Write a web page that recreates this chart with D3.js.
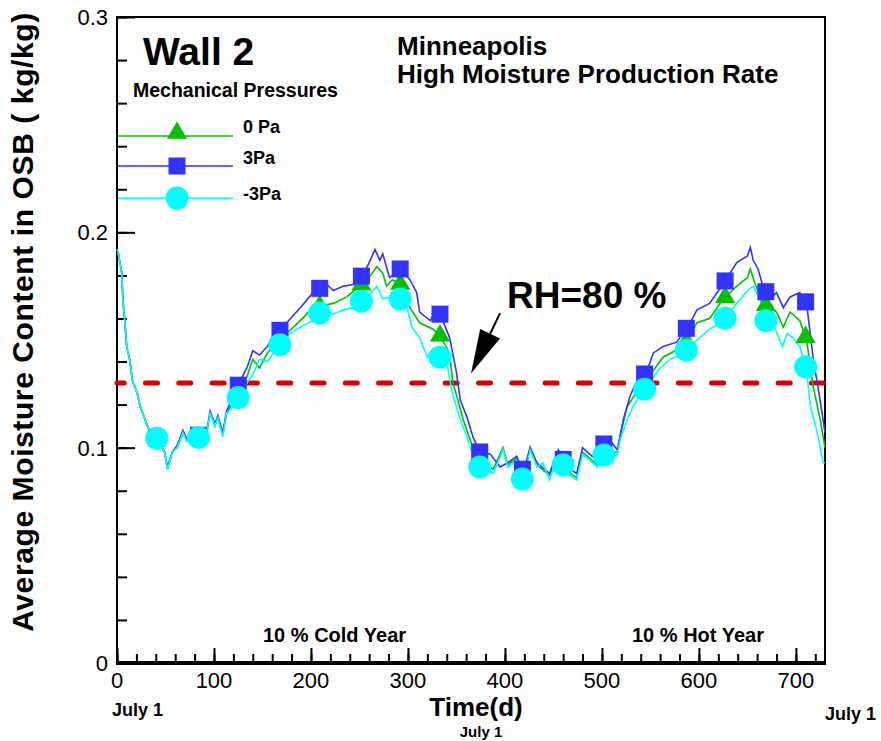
<!DOCTYPE html>
<html>
<head>
<meta charset="utf-8">
<script src="https://cdn.jsdelivr.net/npm/d3@7"></script>
<style>
  body { margin: 0; background: #fff; }
  text { font-family: "Liberation Sans", Arial, sans-serif; }
</style>
</head>
<body>
<div id="container"></div>
<script>
/* DATA */
// day, moisture content (kg/kg)
const seriesMinus3 = [
  [0,.192],[1,.191],[5,.181],[6,.169],[8,.159],[10,.147],[13,.141],[16,.131],[21,.125],[24,.119],
  [29,.113],[34,.107],[42,.104],[49,.098],[52,.090],[57,.098],[62,.100],[68,.107],[72,.103],[78,.107],
  [86,.104],[93,.108],[96,.116],[101,.110],[104,.114],[109,.105],[113,.116],[120,.119],[127,.125],[134,.130],
  [140,.134],[147,.141],[155,.140],[165,.146],[175,.152],[189,.156],[202,.159],[212,.164],[223,.162],[233,.164],
  [243,.165],[258,.170],[268,.175],[274,.169],[281,.170],[292,.169],[299,.165],[304,.156],[312,.151],[320,.142],
  [326,.146],[333,.142],[341,.137],[346,.125],[354,.113],[361,.105],[367,.096],[374,.091],[388,.088],[398,.099],
  [403,.091],[412,.094],[419,.084],[426,.099],[433,.091],[439,.093],[446,.085],[455,.097],[464,.088],[474,.085],
  [480,.097],[488,.094],[495,.091],[501,.097],[508,.094],[516,.097],[519,.104],[526,.113],[532,.119],[539,.124],
  [550,.131],[560,.137],[570,.141],[584,.144],[598,.150],[611,.155],[625,.159],[639,.167],[650,.173],[656,.175],
  [663,.169],[668,.160],[673,.155],[678,.156],[686,.147],[691,.153],[697,.151],[704,.147],[711,.136],[715,.119],
  [722,.107],[728,.093],[730,.093]
]
const series3 = [
  [0,.192],[1,.191],[5,.181],[6,.169],[8,.159],[10,.147],[13,.141],[16,.131],[21,.125],[24,.119],
  [29,.113],[34,.107],[42,.104],[49,.098],[52,.091],[57,.098],[62,.101],[68,.108],[72,.104],[78,.108],
  [86,.105],[93,.109],[96,.117],[101,.111],[104,.115],[109,.107],[113,.117],[120,.124],[127,.131],[134,.137],
  [140,.145],[147,.143],[155,.147],[161,.151],[171,.156],[189,.165],[202,.172],[216,.176],[223,.173],[233,.175],
  [247,.176],[258,.184],[266,.192],[271,.187],[274,.190],[281,.179],[292,.183],[302,.178],[309,.172],[312,.163],
  [323,.159],[330,.165],[336,.159],[343,.151],[350,.135],[354,.122],[361,.114],[367,.105],[374,.098],[385,.097],
  [395,.091],[403,.093],[412,.096],[419,.089],[426,.100],[433,.093],[446,.088],[455,.099],[464,.091],[474,.088],
  [480,.100],[495,.094],[505,.105],[516,.099],[522,.113],[529,.124],[536,.131],[546,.135],[553,.144],[563,.147],
  [577,.149],[591,.158],[598,.164],[611,.167],[625,.176],[639,.186],[650,.189],[653,.193],[656,.187],[661,.183],
  [666,.175],[673,.169],[680,.172],[687,.165],[694,.170],[704,.172],[711,.167],[718,.141],[725,.122],[730,.107]
]
const series0 = [
  [0,.192],[1,.191],[5,.181],[6,.169],[8,.159],[10,.147],[13,.141],[16,.131],[21,.125],[24,.119],
  [29,.113],[34,.107],[42,.104],[49,.098],[52,.090],[57,.098],[62,.100],[68,.107],[72,.103],[78,.107],
  [86,.104],[93,.108],[96,.116],[101,.110],[104,.114],[109,.106],[113,.116],[120,.121],[127,.128],[134,.133],
  [140,.141],[147,.137],[155,.144],[161,.147],[175,.153],[189,.159],[202,.165],[223,.167],[237,.170],[258,.178],
  [268,.184],[274,.181],[278,.175],[284,.178],[292,.176],[302,.165],[312,.158],[326,.155],[333,.152],[343,.144],
  [346,.131],[357,.113],[367,.100],[374,.094],[388,.090],[398,.100],[403,.092],[412,.095],[419,.086],[426,.100],
  [433,.092],[446,.087],[455,.098],[464,.089],[474,.086],[480,.098],[495,.092],[501,.098],[516,.098],[519,.106],
  [526,.119],[536,.126],[550,.134],[563,.142],[584,.147],[598,.158],[611,.160],[625,.169],[639,.175],[650,.179],
  [653,.183],[658,.176],[666,.167],[680,.163],[687,.156],[694,.163],[704,.159],[711,.150],[718,.128],[725,.113],
  [730,.100]
]
const markerDays = [41, 84, 125, 168, 209, 252, 292, 333, 374, 418, 460, 502, 544, 587, 627, 669, 710]
const xTicks = [0, 100, 200, 300, 400, 500, 600, 700]
const yTicks = [0, 0.1, 0.2, 0.3]
const legendLabels = ["0 Pa", "3Pa", "-3Pa"]
const rhLimit = 0.13
const arrowFrom = [395, 0.1625], arrowTo = [365, 0.1345]

/* CONSTANTS AND GLOBALS */
const width = 881, height = 741
const plotLeft = 117, plotRight = 825, plotTop = 17, plotBottom = 663
const fontBold = "bold"

const svg = d3.select("#container")
  .append("svg")
  .attr("width", width)
  .attr("height", height)

const x = d3.scaleLinear().domain([0, 730]).range([plotLeft, plotRight])
const y = d3.scaleLinear().domain([0, 0.3]).range([plotBottom, plotTop])

// AXES - ticks point inward
const xMinor = d3.axisTop(x).tickValues(d3.range(0, 730, 20)).tickSize(9).tickFormat("")
const xMajor = d3.axisTop(x).tickValues(xTicks).tickSize(15).tickFormat("")
const yMinor = d3.axisRight(y).tickValues(d3.range(0, 0.301, 0.02)).tickSize(10).tickFormat("")
const yMajor = d3.axisRight(y).tickValues(yTicks).tickSize(18).tickFormat("")

svg.append("g").attr("transform", `translate(0,${plotBottom})`).call(xMinor)
svg.append("g").attr("transform", `translate(0,${plotBottom})`).call(xMajor)
svg.append("g").attr("transform", `translate(${plotLeft},0)`).call(yMinor)
svg.append("g").attr("transform", `translate(${plotLeft},0)`).call(yMajor)
svg.selectAll(".domain").remove()
svg.selectAll(".tick line").attr("stroke", "black").attr("stroke-width", 2)

svg.selectAll(".xlab")
  .data(xTicks)
  .join("text")
  .attr("class", "xlab")
  .attr("x", d => x(d))
  .attr("y", 688)
  .attr("text-anchor", "middle")
  .attr("font-size", 22)
  .text(d => d)

svg.selectAll(".ylab")
  .data(yTicks)
  .join("text")
  .attr("class", "ylab")
  .attr("x", 108)
  .attr("y", d => y(d) + 8)
  .attr("text-anchor", "end")
  .attr("font-size", 22)
  .text(d => d)

// frame
svg.append("rect")
  .attr("x", plotLeft).attr("y", plotTop)
  .attr("width", plotRight - plotLeft).attr("height", plotBottom - plotTop)
  .attr("fill", "none").attr("stroke", "black").attr("stroke-width", 2)
svg.append("line")
  .attr("x1", plotLeft - 1).attr("x2", plotRight + 1)
  .attr("y1", plotBottom).attr("y2", plotBottom)
  .attr("stroke", "black").attr("stroke-width", 4)

// RH=80% limit
svg.append("line")
  .attr("x1", x(0)).attr("x2", x(730))
  .attr("y1", y(rhLimit)).attr("y2", y(rhLimit))
  .attr("stroke", "#d40000")
  .attr("stroke-width", 5)
  .attr("stroke-linecap", "round")
  .attr("stroke-dasharray", "12 21.3")
  .attr("stroke-dashoffset", 4.8)

/* SERIES */
const series = [
  { key: "p0", data: series0, color: "#00c000", symbol: d3.symbolTriangle, size: 175 },
  { key: "p3", data: series3, color: "#3333ff", symbol: d3.symbolSquare, size: 290 },
  { key: "m3", data: seriesMinus3, color: "#00ffff", symbol: d3.symbolCircle, size: 415 }
]

const lineGen = d3.line()
  .x(d => x(d[0]))
  .y(d => y(d[1]))

const bisect = d3.bisector(d => d[0]).left
function valueAt(data, day) {
  const i = bisect(data, day)
  if (i <= 0) return data[0][1]
  const a = data[i - 1], b = data[i]
  return a[1] + (b[1] - a[1]) * (day - a[0]) / (b[0] - a[0])
}

series.forEach(s => {
  svg.append("path")
    .datum(s.data)
    .attr("d", lineGen)
    .attr("fill", "none")
    .attr("stroke", s.color)
    .attr("stroke-width", 1.6)
})

series.forEach(s => {
  svg.selectAll(".m-" + s.key)
    .data(markerDays)
    .join("path")
    .attr("class", "m-" + s.key)
    .attr("d", d3.symbol(s.symbol, s.size))
    .attr("transform", d => `translate(${x(d)},${y(valueAt(s.data, d))})`)
    .attr("fill", s.color)
})

/* LEGEND */
const legY = [136, 166, 198]
series.forEach((s, i) => {
  svg.append("line")
    .attr("x1", 118).attr("x2", 233)
    .attr("y1", legY[i]).attr("y2", legY[i])
    .attr("stroke", s.color).attr("stroke-width", 1.6)
  svg.append("path")
    .attr("d", d3.symbol(s.symbol, s.size))
    .attr("transform", `translate(177,${legY[i] + (i === 0 ? -3 : 0)})`)
    .attr("fill", s.color)
  svg.append("text")
    .attr("x", 243).attr("y", legY[i] - 3 + (i === 2 ? 5 : 0) + (i === 1 ? 1 : 0))
    .attr("font-size", 18).attr("font-weight", fontBold)
    .text(legendLabels[i])
})

/* TEXT */
svg.append("text").attr("x", 143).attr("y", 65)
  .attr("font-size", 39).attr("font-weight", fontBold).text("Wall 2")
svg.append("text").attr("x", 133).attr("y", 97)
  .attr("font-size", 19.5).attr("font-weight", fontBold).text("Mechanical Pressures")
svg.append("text").attr("x", 397).attr("y", 55)
  .attr("font-size", 26).attr("font-weight", fontBold).text("Minneapolis")
svg.append("text").attr("x", 397).attr("y", 83)
  .attr("font-size", 26).attr("font-weight", fontBold).text("High Moisture Production Rate")
svg.append("text").attr("x", 507).attr("y", 308)
  .attr("font-size", 37).attr("font-weight", fontBold).text("RH=80 %")
svg.append("text").attr("x", 263).attr("y", 642)
  .attr("font-size", 20).attr("font-weight", fontBold).text("10 % Cold Year")
svg.append("text").attr("x", 632).attr("y", 642)
  .attr("font-size", 20).attr("font-weight", fontBold).text("10 % Hot Year")

svg.append("text").attr("x", 476).attr("y", 716).attr("text-anchor", "middle")
  .attr("font-size", 26).attr("font-weight", fontBold).text("Time(d)")
svg.append("text").attr("x", 112).attr("y", 716)
  .attr("font-size", 18).attr("font-weight", fontBold).text("July 1")
svg.append("text").attr("x", 481).attr("y", 737).attr("text-anchor", "middle")
  .attr("font-size", 15).attr("font-weight", fontBold).text("July 1")
svg.append("text").attr("x", 825).attr("y", 720)
  .attr("font-size", 18).attr("font-weight", fontBold).text("July 1")

svg.append("text")
  .attr("transform", "translate(33,322) rotate(-90)")
  .attr("text-anchor", "middle")
  .attr("font-size", 30)
  .attr("letter-spacing", 0.6)
  .attr("font-weight", fontBold)
  .text("Average Moisture Content in OSB ( kg/kg)")

// arrow pointing at the crossing
const p0 = [x(arrowFrom[0]), y(arrowFrom[1])], p1 = [x(arrowTo[0]), y(arrowTo[1])]
const ang = Math.atan2(p1[1] - p0[1], p1[0] - p0[0])
const headLen = 44, headHalf = 11
const bx = p1[0] - headLen * Math.cos(ang), by = p1[1] - headLen * Math.sin(ang)
svg.append("line")
  .attr("x1", p0[0]).attr("y1", p0[1]).attr("x2", bx).attr("y2", by)
  .attr("stroke", "black").attr("stroke-width", 2)
svg.append("path")
  .attr("d", `M${p1[0]},${p1[1]} L${bx + headHalf * Math.sin(ang)},${by - headHalf * Math.cos(ang)} L${bx - headHalf * Math.sin(ang)},${by + headHalf * Math.cos(ang)} Z`)
  .attr("fill", "black")
</script>
</body>
</html>
